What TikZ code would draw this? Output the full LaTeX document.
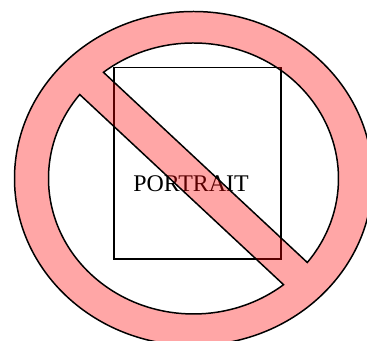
\documentclass[tikz,border=0pt]{standalone}
\usepackage{fontspec}
\setmainfont{Liberation Serif}
\tikzset{
  frame/.style={draw, line width=0.85pt, minimum width=3.34cm, minimum height=3.83cm,
                inner sep=0pt},
  title/.style={font=\fontsize{13.6}{16}\selectfont, inner sep=0pt},
  ban/.style={draw, line width=0.85pt, fill=red, fill opacity=0.35, even odd rule},
}
\begin{document}
\begin{tikzpicture}
\useasboundingbox (0,0) rectangle (7.34,6.82);

\node[frame] (sheet) at (3.95,3.555) {};
\node[title] (portrait) at (3.82,3.15) {PORTRAIT};

% ring and bar, the two white parts cut out
\path[ban, shift={(3.87,3.25)}]
  (0,0) ellipse[x radius=3.58, y radius=3.34]
  (128.4:2.9 and 2.71) arc[start angle=128.4, end angle=-38.3, x radius=2.9, y radius=2.71] -- cycle
  (141.7:2.9 and 2.71) arc[start angle=141.7, end angle=308.4, x radius=2.9, y radius=2.71] -- cycle;

\end{tikzpicture}
\end{document}
